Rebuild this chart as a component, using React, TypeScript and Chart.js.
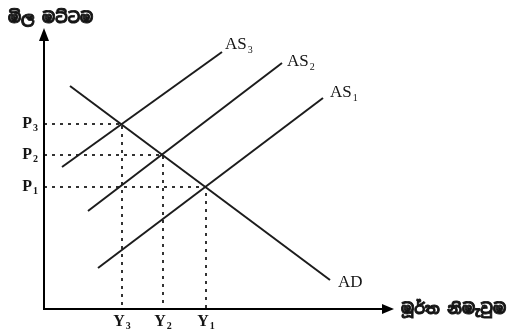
import React, { useEffect, useRef } from 'react';
import { Chart, registerables } from 'chart.js';

Chart.register(...registerables);

// ---- data (arbitrary units: output on x, price level on y) ----
const X_MAX = 349;
const Y_MAX = 279;

const AD_X = [26, 286];
const AD_Y = [223, 29];
const AS3_X = [18, 178];
const AS3_Y = [142, 257];
const AS2_X = [44, 238];
const AS2_Y = [98, 246];
const AS1_X = [54, 279];
const AS1_Y = [41, 211];

const EQ_X = [78, 119, 162];
const EQ_Y = [185, 154, 122];

const PRICE_LABELS = ['P₃', 'P₂', 'P₁'];
const OUTPUT_LABELS = ['Y₃', 'Y₂', 'Y₁'];
const CURVE_NAMES = ['AS₃', 'AS₂', 'AS₁', 'AD'];

const Y_AXIS_TITLE = 'මිල මට්ටම';
const X_AXIS_TITLE = 'මූර්ත නිමැවුම';

const SERIF = '"Liberation Serif", "DejaVu Serif", serif';
const SINHALA = '"Noto Sans Sinhala", "Noto Serif Sinhala", "Noto Sans", sans-serif';
const INK = '#151515';

const SUB_MAP: Record<string, string> = {
  '₀': '0', '₁': '1', '₂': '2', '₃': '3', '₄': '4', '₅': '5', '₆': '6', '₇': '7', '₈': '8', '₉': '9',
};

function drawSubText(
  ctx: CanvasRenderingContext2D,
  text: string,
  x: number,
  y: number,
  size: number,
  bold: boolean,
  align: 'left' | 'right' | 'center'
) {
  let base = '';
  let sub = '';
  for (const ch of text) {
    if (SUB_MAP[ch]) sub += SUB_MAP[ch];
    else base += ch;
  }
  const w = bold ? 'bold ' : '';
  const subSize = Math.round(size * 0.6);
  ctx.font = `${w}${size}px ${SERIF}`;
  const bw = ctx.measureText(base).width;
  ctx.font = `${w}${subSize}px ${SERIF}`;
  const sw = ctx.measureText(sub).width;
  const total = bw + sw + 1;
  let sx = x;
  if (align === 'right') sx = x - total;
  else if (align === 'center') sx = x - total / 2;
  ctx.textAlign = 'left';
  ctx.textBaseline = 'middle';
  ctx.fillStyle = INK;
  ctx.font = `${w}${size}px ${SERIF}`;
  ctx.fillText(base, sx, y);
  ctx.font = `${w}${subSize}px ${SERIF}`;
  ctx.fillText(sub, sx + bw + 1, y + size * 0.3);
}

const pts = (xs: number[], ys: number[]) => xs.map((x, i) => ({ x, y: ys[i] }));

const diagramPlugin = {
  id: 'diagram',
  afterDatasetsDraw(chart: any) {
    const ctx: CanvasRenderingContext2D = chart.ctx;
    const xs = chart.scales.x;
    const ys = chart.scales.y;
    const x0 = xs.getPixelForValue(0);
    const y0 = ys.getPixelForValue(0);
    const xEnd = xs.getPixelForValue(X_MAX);
    const yTop = ys.getPixelForValue(Y_MAX);

    ctx.save();
    // axes
    ctx.strokeStyle = '#000';
    ctx.lineWidth = 2;
    ctx.beginPath();
    ctx.moveTo(x0, y0);
    ctx.lineTo(x0, yTop + 6);
    ctx.moveTo(x0 - 1, y0);
    ctx.lineTo(xEnd - 6, y0);
    ctx.stroke();
    // arrow heads
    ctx.fillStyle = '#000';
    ctx.beginPath();
    ctx.moveTo(x0, yTop - 2);
    ctx.lineTo(x0 - 5, yTop + 11);
    ctx.lineTo(x0 + 5, yTop + 11);
    ctx.closePath();
    ctx.fill();
    ctx.beginPath();
    ctx.moveTo(xEnd + 1, y0);
    ctx.lineTo(xEnd - 11, y0 - 5);
    ctx.lineTo(xEnd - 11, y0 + 5);
    ctx.closePath();
    ctx.fill();

    // axis titles (heavy, like the scanned print)
    ctx.fillStyle = INK;
    ctx.strokeStyle = INK;
    ctx.lineWidth = 0.9;
    ctx.textBaseline = 'middle';
    ctx.textAlign = 'left';
    ctx.font = `bold 15px ${SINHALA}`;
    ctx.fillText(Y_AXIS_TITLE, 8, 19);
    ctx.strokeText(Y_AXIS_TITLE, 8, 19);
    ctx.fillText(X_AXIS_TITLE, xEnd + 8, y0 + 1);
    ctx.strokeText(X_AXIS_TITLE, xEnd + 8, y0 + 1);

    // price & output labels
    EQ_Y.forEach((v, i) => {
      drawSubText(ctx, PRICE_LABELS[i], x0 - 6, ys.getPixelForValue(v), 16, true, 'right');
    });
    EQ_X.forEach((v, i) => {
      drawSubText(ctx, OUTPUT_LABELS[i], xs.getPixelForValue(v), y0 + 13, 16, true, 'center');
    });

    // curve labels at the upper/right ends
    const offsets = [
      [3, -7],
      [5, -1],
      [7, -5],
      [8, 3],
    ];
    [0, 1, 2, 3].forEach((di, k) => {
      const data = chart.data.datasets[di].data;
      const end = data[data.length - 1];
      const px = xs.getPixelForValue(end.x) + offsets[k][0];
      const py = ys.getPixelForValue(end.y) + offsets[k][1];
      drawSubText(ctx, CURVE_NAMES[k], px, py, 17, false, 'left');
    });
    ctx.restore();
  },
};

export default function App() {
  const ref = useRef<HTMLCanvasElement | null>(null);

  useEffect(() => {
    if (!ref.current) return;
    const lineStyle = {
      borderColor: '#1c1c1c',
      borderWidth: 2,
      pointRadius: 0,
      fill: false,
      tension: 0,
    };
    const guides = EQ_X.map((x, i) => ({
      data: [
        { x: 0, y: EQ_Y[i] },
        { x, y: EQ_Y[i] },
        { x, y: 0 },
      ],
      borderColor: '#333',
      borderWidth: 2,
      borderDash: [3, 5],
      pointRadius: 0,
      fill: false,
      tension: 0,
    }));
    const chart = new Chart(ref.current, {
      type: 'line',
      data: {
        datasets: [
          { data: pts(AS3_X, AS3_Y), ...lineStyle },
          { data: pts(AS2_X, AS2_Y), ...lineStyle },
          { data: pts(AS1_X, AS1_Y), ...lineStyle },
          { data: pts(AD_X, AD_Y), ...lineStyle },
          ...guides,
        ],
      },
      options: {
        animation: false,
        responsive: false,
        maintainAspectRatio: false,
        parsing: false as any,
        layout: { padding: { left: 44, right: 134, top: 30, bottom: 21 } },
        scales: {
          x: { type: 'linear', min: 0, max: X_MAX, display: false },
          y: { type: 'linear', min: 0, max: Y_MAX, display: false },
        },
        plugins: {
          legend: { display: false },
          tooltip: { enabled: false },
        },
      },
      plugins: [diagramPlugin],
    });
    return () => chart.destroy();
  }, []);

  return (
    <div style={{ position: 'fixed', left: 0, top: 0, width: 527, height: 330, background: '#fff' }}>
      <canvas ref={ref} width={527} height={330} style={{ width: 527, height: 330, display: 'block' }} />
    </div>
  );
}
